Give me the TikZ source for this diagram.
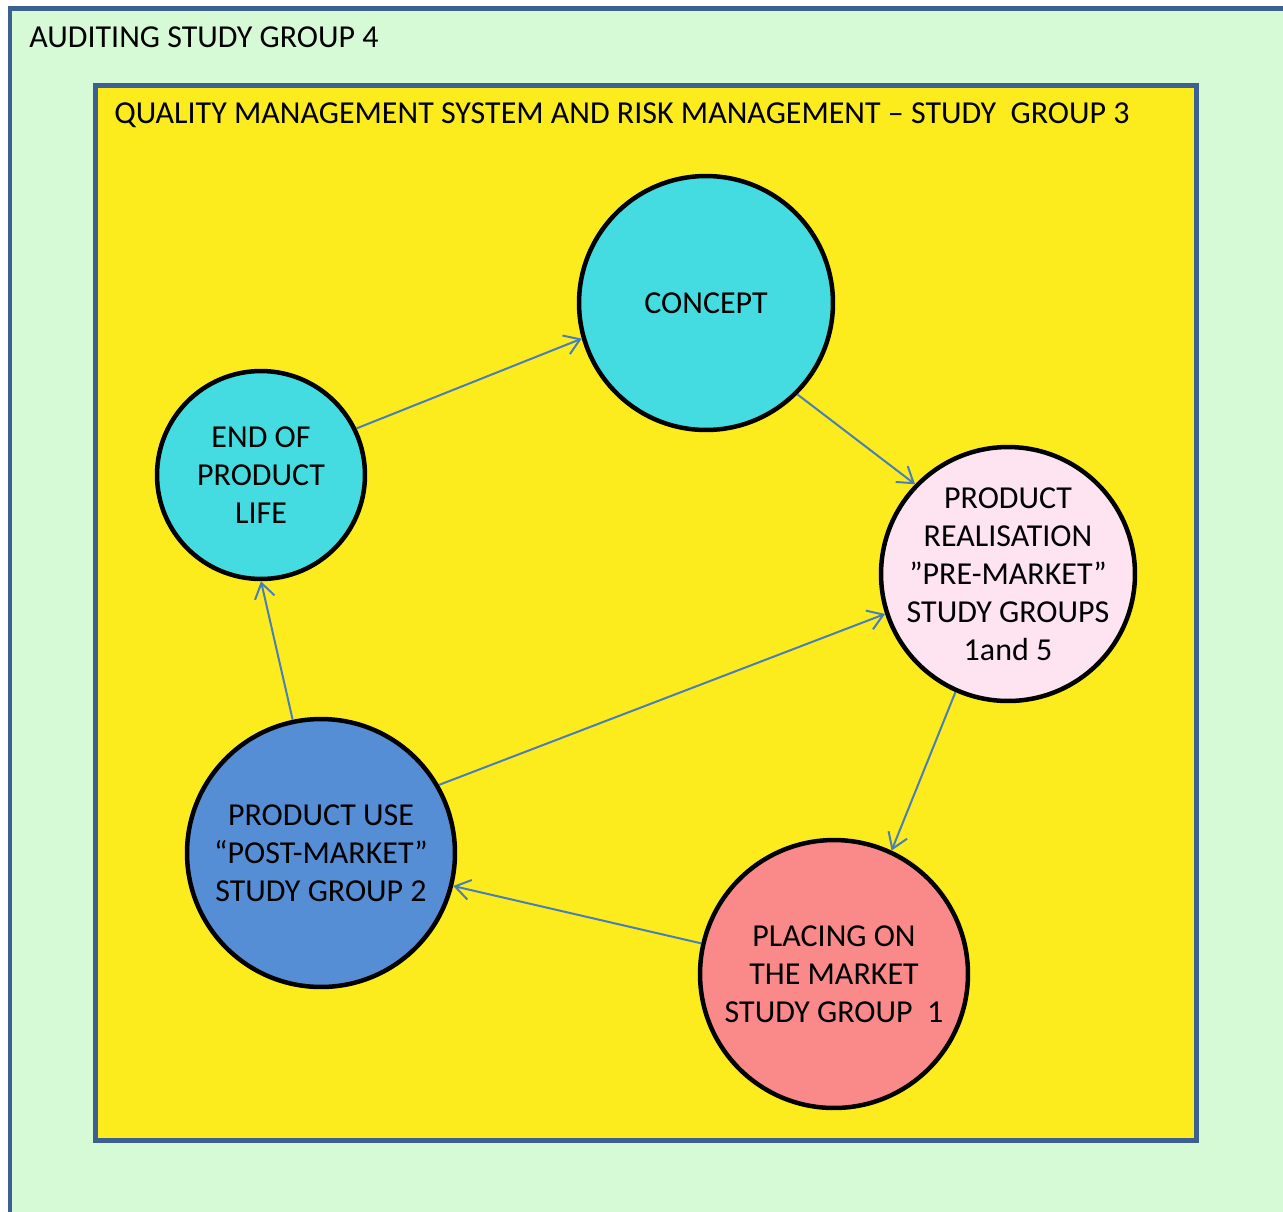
\documentclass[tikz,border=0pt]{standalone}
\usepackage{fontspec}
\setmainfont{Carlito}
\usetikzlibrary{arrows.meta}

\definecolor{auditgreen}{RGB}{214,250,214}
\definecolor{qmsyellow}{RGB}{252,236,30}
\definecolor{frameblue}{RGB}{60,96,143}
\definecolor{conceptcyan}{RGB}{68,220,224}
\definecolor{realpink}{RGB}{253,228,240}
\definecolor{useblue}{RGB}{85,142,213}
\definecolor{placesalmon}{RGB}{250,138,138}
\definecolor{arrowblue}{RGB}{74,126,187}

\begin{document}
\begin{tikzpicture}[x=0.02cm, y=-0.02cm,
    every node/.style={font=\fontsize{18.2}{21.6}\selectfont},
    frame/.style={draw=frameblue, line width=0.1cm},
    stage/.style={circle, draw=black, line width=0.09cm, align=center, inner sep=0pt},
    flow/.style={-{Straight Barb[length=0.3cm, width=0.4cm]}, draw=arrowblue, line width=0.04cm}]
			\useasboundingbox (0,0) rectangle (1283,1211);

			% Draw the two boxes
			\draw[frame, fill=auditgreen] (10,8) rectangle (1310,1240);
			\draw[frame, fill=qmsyellow] (95,85) rectangle (1196,1140);

			\node[anchor=base west, inner sep=0pt] (auditlabel) at (29,47) {AUDITING STUDY GROUP 4};
			\node[anchor=base west, inner sep=0pt] (qmslabel) at (114,123) {QUALITY MANAGEMENT SYSTEM AND RISK MANAGEMENT -- STUDY\ \ GROUP 3};

			% Draw the stages of the cycle
			\node[stage, fill=conceptcyan, minimum size=5.08cm] (concept) at (706,303) {CONCEPT};
			\node[stage, fill=realpink, minimum size=5.08cm, inner sep=-0.2cm] (realisation) at (1008,574) {PRODUCT\\REALISATION\\”PRE-MARKET”\\STUDY GROUPS\\1and 5};
			\node[stage, fill=placesalmon, minimum size=5.36cm] (placing) at (834,974) {PLACING ON\\THE MARKET\\STUDY GROUP\ \ 1};
			\node[stage, fill=useblue, minimum size=5.36cm] (use) at (321,853) {PRODUCT USE\\“POST-MARKET”\\STUDY GROUP 2};
			\node[stage, fill=conceptcyan, minimum size=4.16cm] (endlife) at (261,475) {END OF\\PRODUCT\\LIFE};

			% Draw the arrows between the stages
			\draw[flow] (endlife.26) -- (concept.196);
			\draw[flow] (concept.315) -- (realisation.136);
			\draw[flow] (realisation.246) -- (placing.65);
			\draw[flow] (placing.167) -- (use.346);
			\draw[flow] (use.30) -- (realisation.198);
			\draw[flow] (use.102) -- (endlife.270);

		\end{tikzpicture}
\end{document}
